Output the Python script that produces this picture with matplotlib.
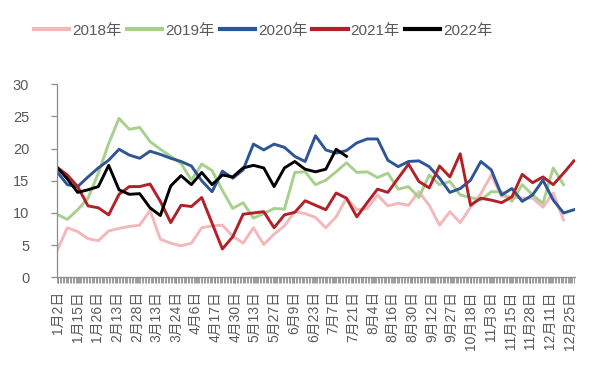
import numpy as np
import matplotlib
matplotlib.use("Agg")
from matplotlib import pyplot as plt

plt.rcParams['font.family'] = ['Liberation Sans', 'Noto Sans CJK SC']

dates = ["1月2日", "1月15日", "1月26日", "2月13日", "2月28日", "3月13日", "3月24日",
         "4月6日", "4月17日", "4月30日", "5月13日", "5月27日", "6月9日", "6月23日",
         "7月7日", "7月21日", "8月4日", "8月16日", "8月30日", "9月12日", "9月27日",
         "10月18日", "11月3日", "11月15日", "11月28日", "12月11日", "12月25日"]

years = ["2018年", "2019年", "2020年", "2021年", "2022年"]

s2018 = [4.1, 7.7, 7.1, 6.0, 5.7, 7.2, 7.6, 7.9, 8.1, 10.4, 5.9, 5.3, 4.9, 5.3,
         7.7, 8.0, 8.1, 6.4, 5.3, 7.7, 5.1, 6.7, 8.0, 10.2, 9.9, 9.3, 7.7, 9.4,
         12.3, 10.5, 10.7, 12.8, 11.1, 11.5, 11.2, 13.3, 11.2, 8.1, 10.2, 8.5,
         10.9, 13.0, 15.9, 12.6, 12.5, 12.3, 12.3, 10.9, 13.1, 8.9]
s2019 = [9.8, 9.0, 10.5, 12.3, 16.2, 20.8, 24.7, 23.0, 23.3, 21.1, 19.9, 18.8,
         17.7, 15.1, 17.6, 16.6, 13.5, 10.7, 11.6, 9.2, 9.9, 10.7, 10.6, 16.3,
         16.4, 14.4, 15.1, 16.4, 17.8, 16.3, 16.4, 15.5, 16.2, 13.7, 14.1, 12.4,
         15.9, 14.4, 14.9, 12.8, 12.4, 12.0, 13.3, 13.3, 11.8, 14.4, 12.8, 11.5,
         17.0, 14.4]
s2020 = [16.4, 14.4, 14.1, 15.6, 17.0, 18.2, 19.9, 19.0, 18.5, 19.6, 19.1, 18.5,
         18.0, 17.3, 15.0, 13.3, 16.5, 15.4, 16.7, 20.7, 19.8, 20.7, 20.2, 18.8,
         18.0, 22.0, 19.8, 19.3, 19.7, 20.9, 21.5, 21.5, 18.2, 17.2, 18.0, 18.1,
         17.2, 15.4, 13.2, 13.8, 15.1, 18.0, 16.7, 12.8, 13.8, 11.8, 12.8, 15.1,
         12.0, 10.0, 10.5]
s2021 = [17.1, 15.9, 14.1, 11.1, 10.8, 9.7, 12.9, 14.1, 14.1, 14.5, 11.8, 8.5,
         11.2, 11.0, 12.4, 8.4, 4.4, 6.3, 9.8, 10.0, 10.2, 7.7, 9.7, 10.1, 11.9,
         11.2, 10.5, 13.1, 12.3, 9.4, 11.6, 13.7, 13.2, 15.4, 17.6, 14.9, 13.9,
         17.3, 15.6, 19.2, 11.2, 12.3, 12.0, 11.6, 12.5, 16.0, 14.7, 15.6, 14.4,
         16.2, 18.1]
s2022 = [17.1, 15.3, 13.2, 13.6, 14.1, 17.4, 13.6, 12.9, 13.0, 10.8, 9.6, 14.2,
         15.8, 14.4, 16.3, 14.4, 15.9, 15.6, 17.0, 17.4, 17.0, 14.1, 17.0, 18.0,
         16.8, 16.4, 16.8, 19.9, 18.8]

colors = ['#F2B8BA', '#A8D08D', '#2E5597', '#B22028', '#000000']
series = [s2018, s2019, s2020, s2021, s2022]

fig = plt.figure(figsize=(5.93, 3.73), dpi=100)
ax = fig.add_axes([0.0961, 0.2566, 0.8735, 0.5174])

for name, vals, c in zip(years, series, colors):
    ax.plot(np.arange(len(vals)), vals, color=c, lw=2.1, label=name)

xmax = 50.1
ax.set_xlim(0, xmax)
ax.set_ylim(0, 30)
ax.set_yticks(range(0, 31, 5))
ax.set_xticks(np.linspace(0.1, 49.6, len(dates)))
ax.set_xticklabels(dates, rotation=90)
ax.set_xticks(np.arange(0, xmax, xmax / 360), minor=True)

for side in ['top', 'right']:
    ax.spines[side].set_visible(False)
for side in ['left', 'bottom']:
    ax.spines[side].set_color('#8C8C8C')
    ax.spines[side].set_linewidth(0.9)

ax.tick_params(axis='y', length=4, width=0.9, color='#8C8C8C',
               labelcolor='#595959', labelsize=10.5, pad=16)
ax.tick_params(axis='x', which='both', length=4, width=0.6, color='#8C8C8C',
               labelcolor='#595959', labelsize=10, pad=6)

fig.legend(loc='center', bbox_to_anchor=(0.444, 0.918), ncol=5, frameon=False,
           fontsize=11, handlelength=2.3, handletextpad=0.2, columnspacing=0.35,
           labelcolor='#595959')
for line in fig.legends[0].get_lines():
    line.set_linewidth(3)

fig.savefig("out.png", dpi=100)
